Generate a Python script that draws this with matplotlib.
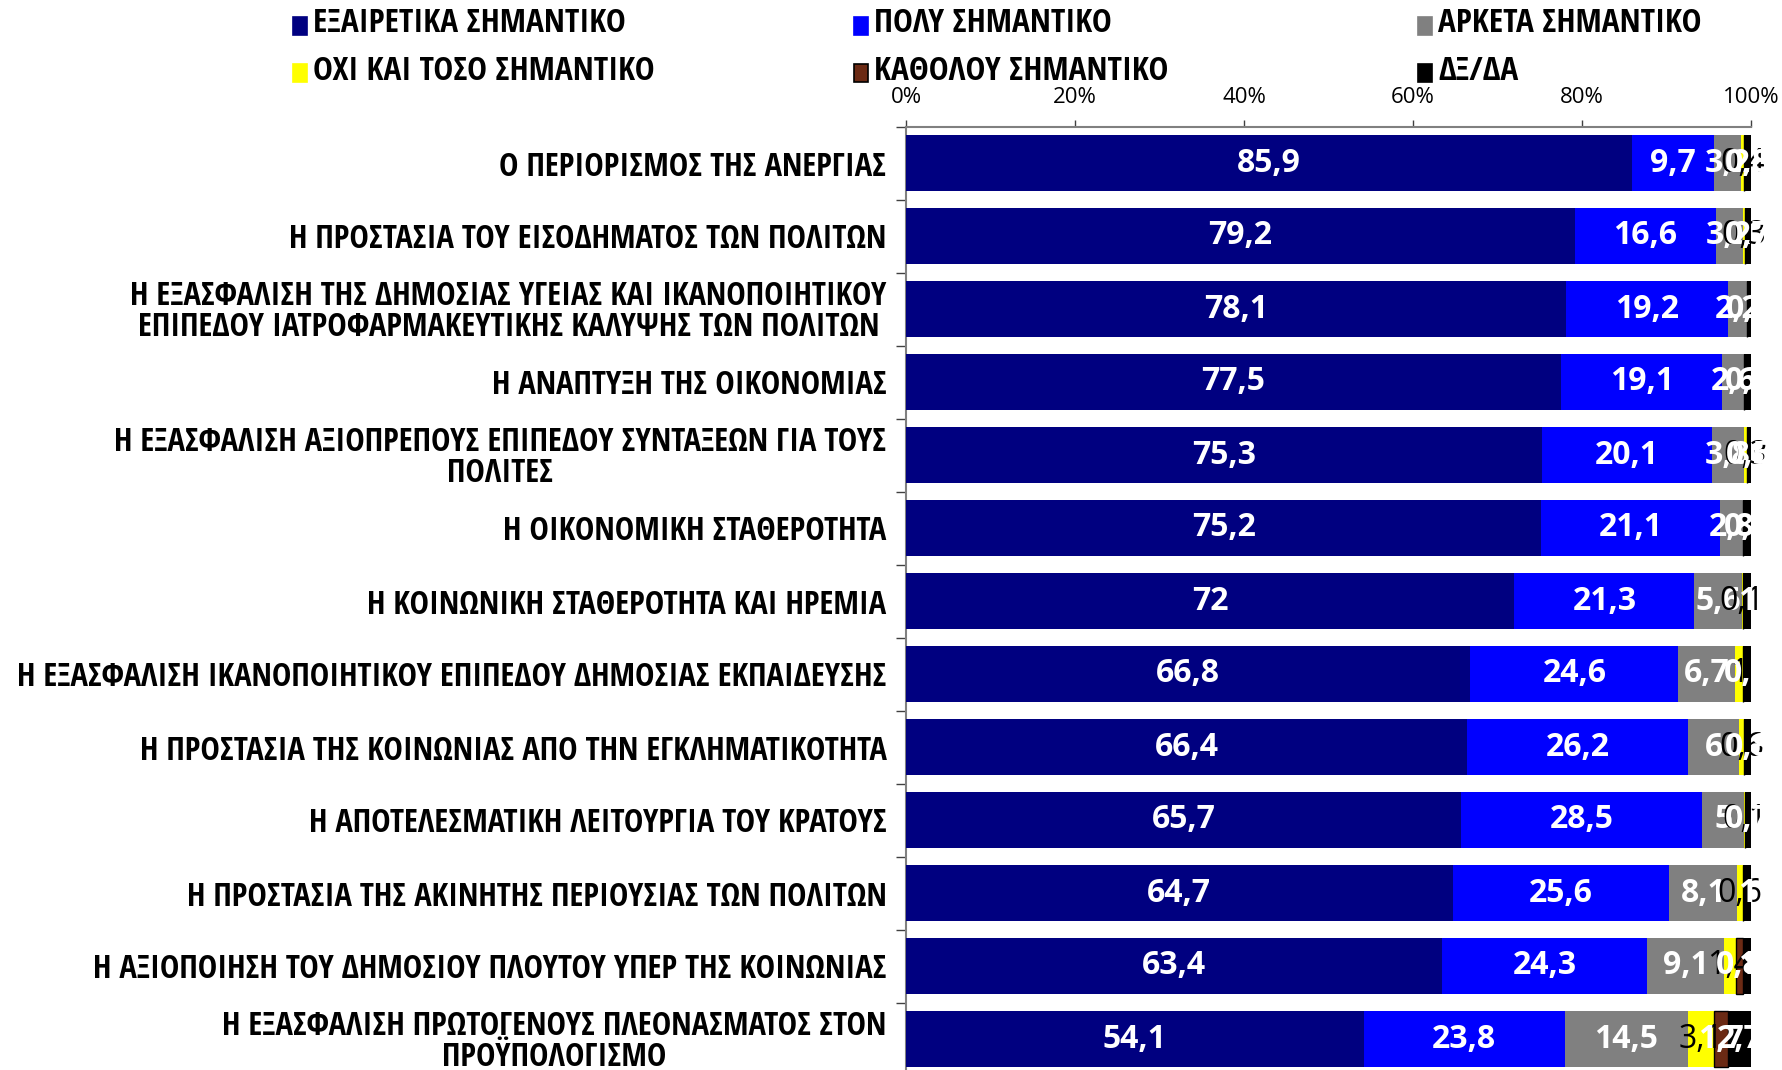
import matplotlib
matplotlib.use("Agg")
import numpy as np
import matplotlib.pyplot as plt
from matplotlib.patches import Rectangle

plt.rcParams['font.family'] = ['Open Sans', 'DejaVu Sans']

# ── data ───────────────────────────────────────────────
issues = [
    "Ο ΠΕΡΙΟΡΙΣΜΟΣ ΤΗΣ ΑΝΕΡΓΙΑΣ",
    "Η ΠΡΟΣΤΑΣΙΑ ΤΟΥ ΕΙΣΟΔΗΜΑΤΟΣ ΤΩΝ ΠΟΛΙΤΩΝ",
    "Η ΕΞΑΣΦΑΛΙΣΗ ΤΗΣ ΔΗΜΟΣΙΑΣ ΥΓΕΙΑΣ ΚΑΙ ΙΚΑΝΟΠΟΙΗΤΙΚΟΥ\nΕΠΙΠΕΔΟΥ ΙΑΤΡΟΦΑΡΜΑΚΕΥΤΙΚΗΣ ΚΑΛΥΨΗΣ ΤΩΝ ΠΟΛΙΤΩΝ",
    "Η ΑΝΑΠΤΥΞΗ ΤΗΣ ΟΙΚΟΝΟΜΙΑΣ",
    "Η ΕΞΑΣΦΑΛΙΣΗ ΑΞΙΟΠΡΕΠΟΥΣ ΕΠΙΠΕΔΟΥ ΣΥΝΤΑΞΕΩΝ ΓΙΑ ΤΟΥΣ\nΠΟΛΙΤΕΣ",
    "Η ΟΙΚΟΝΟΜΙΚΗ ΣΤΑΘΕΡΟΤΗΤΑ",
    "Η ΚΟΙΝΩΝΙΚΗ ΣΤΑΘΕΡΟΤΗΤΑ ΚΑΙ ΗΡΕΜΙΑ",
    "Η ΕΞΑΣΦΑΛΙΣΗ ΙΚΑΝΟΠΟΙΗΤΙΚΟΥ ΕΠΙΠΕΔΟΥ ΔΗΜΟΣΙΑΣ ΕΚΠΑΙΔΕΥΣΗΣ",
    "Η ΠΡΟΣΤΑΣΙΑ ΤΗΣ ΚΟΙΝΩΝΙΑΣ ΑΠΟ ΤΗΝ ΕΓΚΛΗΜΑΤΙΚΟΤΗΤΑ",
    "Η ΑΠΟΤΕΛΕΣΜΑΤΙΚΗ ΛΕΙΤΟΥΡΓΙΑ ΤΟΥ ΚΡΑΤΟΥΣ",
    "Η ΠΡΟΣΤΑΣΙΑ ΤΗΣ ΑΚΙΝΗΤΗΣ ΠΕΡΙΟΥΣΙΑΣ ΤΩΝ ΠΟΛΙΤΩΝ",
    "Η ΑΞΙΟΠΟΙΗΣΗ ΤΟΥ ΔΗΜΟΣΙΟΥ ΠΛΟΥΤΟΥ ΥΠΕΡ ΤΗΣ ΚΟΙΝΩΝΙΑΣ",
    "Η ΕΞΑΣΦΑΛΙΣΗ ΠΡΩΤΟΓΕΝΟΥΣ ΠΛΕΟΝΑΣΜΑΤΟΣ ΣΤΟΝ\nΠΡΟΫΠΟΛΟΓΙΣΜΟ",
]

extremely  = [85.9, 79.2, 78.1, 77.5, 75.3, 75.2, 72.0, 66.8, 66.4, 65.7, 64.7, 63.4, 54.1]
very       = [9.7, 16.6, 19.2, 19.1, 20.1, 21.1, 21.3, 24.6, 26.2, 28.5, 25.6, 24.3, 23.8]
quite      = [3.2, 3.2, 2.2, 2.6, 3.8, 2.8, 5.6, 6.7, 6.0, 5.0, 8.1, 9.1, 14.5]
not_so     = [0.4, 0.3, 0.0, 0.0, 0.3, 0.0, 0.1, 1.0, 0.6, 0.1, 0.6, 1.4, 3.1]
not_at_all = [0.0, 0.0, 0.0, 0.0, 0.0, 0.0, 0.0, 0.0, 0.0, 0.0, 0.0, 0.8, 1.7]
dk_na      = [0.8, 0.7, 0.5, 0.8, 0.5, 0.9, 1.0, 0.9, 0.8, 0.7, 1.0, 1.0, 2.7]

series_names = ["ΕΞΑΙΡΕΤΙΚΑ ΣΗΜΑΝΤΙΚΟ", "ΠΟΛΥ ΣΗΜΑΝΤΙΚΟ", "ΑΡΚΕΤΑ ΣΗΜΑΝΤΙΚΟ",
                "ΟΧΙ ΚΑΙ ΤΟΣΟ ΣΗΜΑΝΤΙΚΟ", "ΚΑΘΟΛΟΥ ΣΗΜΑΝΤΙΚΟ", "ΔΞ/ΔΑ"]
series = [extremely, very, quite, not_so, not_at_all, dk_na]

colors     = ["#000080", "#0000FF", "#808080", "#FFFF00", "#6B2A14", "#000000"]
edges      = [None, None, None, None, "#000000", None]
lbl_colors = ["white", "white", "white", "black", "white", "white"]
lbl_weight = ["bold", "bold", "bold", "normal", "bold", "bold"]

vals = np.array(series, dtype=float)          # (6, 13)
share = vals / vals.sum(axis=0) * 100.0        # 100% stacked
y = np.arange(len(issues))

# ── figure ─────────────────────────────────────────────
W, H = 1783, 1070
fig = plt.figure(figsize=(W / 100, H / 100), dpi=100)
ax = fig.add_axes([906 / W, -5.5 / H, 845 / W, 949 / H])

left = np.zeros(len(issues))
for k in range(len(series)):
    bars = ax.barh(y, share[k], left=left, height=0.76, color=colors[k],
                   edgecolor=edges[k] or colors[k], linewidth=1.0 if edges[k] else 0,
                   zorder=3)
    for i, b in enumerate(bars):
        v = vals[k, i]
        if v <= 0:
            continue
        txt = str(int(v)) if float(v).is_integer() else f"{v:.1f}".replace(".", ",")
        ax.text(left[i] + share[k, i] / 2, y[i], txt, ha="center", va="center",
                fontsize=23, color=lbl_colors[k], fontweight=lbl_weight[k], zorder=5)
    left += share[k]

ax.set_xlim(0, 100)
ax.set_ylim(len(issues) - 0.5, -0.5)

# percent scale on top
ax.xaxis.tick_top()
ax.set_xticks(np.arange(0, 101, 20))
ax.set_xticklabels([f"{t}%" for t in range(0, 101, 20)], fontsize=16)
ax.tick_params(axis="x", direction="out", length=5, width=1, color="#404040", pad=8.5)

# category labels, separators at the boundaries
ax.set_yticks(y)
ax.set_yticklabels(issues, fontfamily="Open Sans Condensed", fontweight="bold",
                   fontsize=23.5, multialignment="center", linespacing=0.94)
ax.tick_params(axis="y", which="major", length=0, pad=14)
ax.set_yticks(np.arange(-0.5, len(issues), 1), minor=True)
ax.tick_params(axis="y", which="minor", direction="out", length=7, width=1, color="#404040")

for side in ("right", "bottom"):
    ax.spines[side].set_visible(False)
for side in ("left", "top"):
    ax.spines[side].set_color("#808080")
    ax.spines[side].set_linewidth(1.5)

# legend, two rows of three
leg_x = [293, 854, 1418]
leg_y = [26, 73]
for k, name in enumerate(series_names):
    cx = leg_x[k % 3]
    cy = leg_y[k // 3]
    fig.patches.append(Rectangle((cx / W, 1 - (cy + 9) / H), 14 / W, 18 / H,
                                 transform=fig.transFigure, facecolor=colors[k],
                                 edgecolor=edges[k] or colors[k], linewidth=1.2))
    fig.text((cx + 20) / W, 1 - (cy - 2) / H, name, ha="left", va="center",
             fontfamily="Open Sans Condensed", fontweight="bold", fontsize=24)

fig.savefig("out.png", dpi=100, facecolor="white")
